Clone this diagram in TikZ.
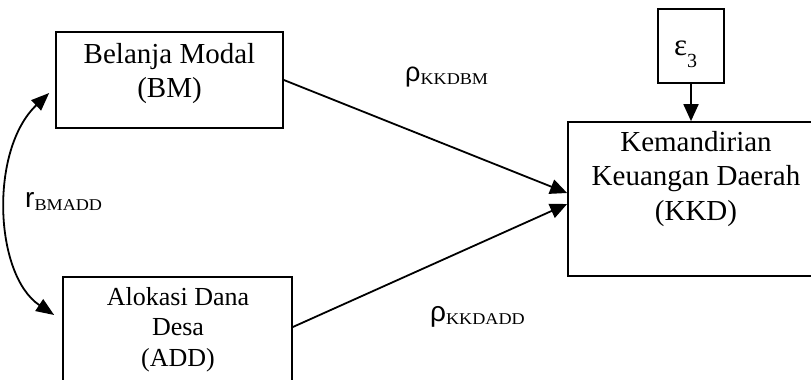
\documentclass[tikz,border=0pt]{standalone}
\usepackage{fontspec}
\setmainfont{Liberation Serif}
\newfontfamily\arialf{Liberation Sans}
\usetikzlibrary{arrows.meta}
\tikzset{
  boxn/.style={draw, line width=1.7pt, inner sep=0pt},
  txt/.style={inner sep=0pt, anchor=base, font=\fontsize{29}{34}\selectfont},
  txts/.style={inner sep=0pt, anchor=base, font=\fontsize{26}{30}\selectfont},
  lbl/.style={inner sep=0pt, anchor=base west},
  conn/.style={line width=1.8pt, -{Triangle[length=17pt,width=15pt]}},
  dconn/.style={line width=1.8pt, {Triangle[length=18pt,width=14pt]}-{Triangle[length=18pt,width=14pt]}}
}
\newcommand{\subt}[1]{\raisebox{-2.5pt}{\scalebox{1.1}[1]{\fontsize{16.5}{18}\selectfont #1}}}
\begin{document}
\begin{tikzpicture}[x=1pt,y=-1pt]
\useasboundingbox (0,0) rectangle (811,380);
% boxes
\node[boxn, minimum width=227pt, minimum height=96pt] (bm) at (169.5,80) {};
\node[boxn, minimum width=229pt, minimum height=104pt] (add) at (177.5,329) {};
\node[boxn, minimum width=256pt, minimum height=154pt] (kkd) at (696,199) {};
\node[boxn, minimum width=66pt, minimum height=74pt] (eps) at (691,46) {};
% texts
\node[txt] (bmA) at (169.5,63) {Belanja Modal};
\node[txt] (bmB) at (169.5,97) {(BM)};
\node[txts] (addA) at (178,305) {Alokasi Dana};
\node[txts] (addB) at (178,335) {Desa};
\node[txts] (addC) at (178,366) {(ADD)};
\node[txt] (kkdA) at (696,151) {Kemandirian};
\node[txt] (kkdB) at (696,185) {Keuangan Daerah};
\node[txt] (kkdC) at (696,220) {(KKD)};
\node[lbl] (epst) at (674,55) {\fontsize{31}{34}\selectfont ε\raisebox{-12pt}{\fontsize{20}{22}\selectfont 3}};
% labels
\node[lbl] (l1) at (405,81.5) {{\arialf\fontsize{27}{30}\selectfont ρ}\subt{KKDBM}};
\node[lbl] (l2) at (430,321.5) {{\arialf\fontsize{28}{30}\selectfont ρ}\subt{KKDADD}};
\node[lbl] (l3) at (25,207.5) {{\arialf\fontsize{28}{30}\selectfont r}\subt{BMADD}};
% connectors
\draw[conn] (eps.south) -- (eps.south |- kkd.north);
\draw[conn] (bm.east) -- ([yshift=6pt]kkd.west);
\draw[conn] ([yshift=2pt]add.east) -- ([yshift=-5pt]kkd.west);
\draw[dconn] ([xshift=-6pt,yshift=-13pt]bm.west) .. controls +(-60,57) and +(-60,-40) .. ([xshift=-8pt,yshift=14pt]add.west);
\end{tikzpicture}
\end{document}
